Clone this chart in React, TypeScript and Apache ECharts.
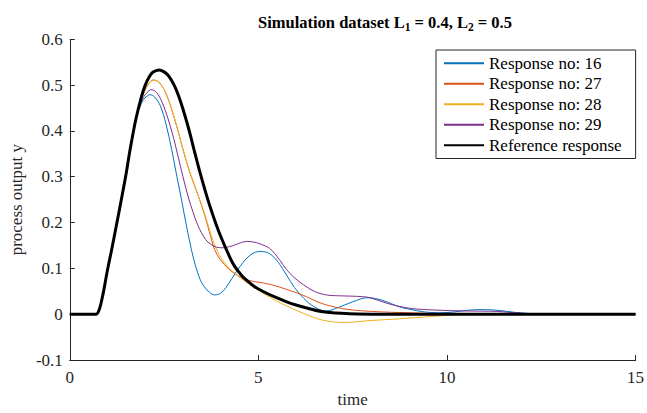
import React, { useEffect, useRef } from "react";
import * as echarts from "echarts";

const FONT = "'Liberation Serif', 'Times New Roman', serif";
const TEXT = "#262626";

// Common rising part (all responses coincide with the reference here)
const riseT = [0, 0.5, 0.65, 0.7, 0.75, 0.8, 0.85, 0.9, 1.0, 1.1, 1.25, 1.4, 1.5, 1.6, 1.75];
const riseY = [0, 0, 0, 0, 0.004, 0.015, 0.032, 0.052, 0.097, 0.137, 0.2, 0.265, 0.31, 0.36, 0.425];

const refT = [1.9, 2.0, 2.1, 2.2, 2.37, 2.5, 2.6, 2.7, 2.8, 2.9, 3.0, 3.1, 3.2, 3.3, 3.45, 3.66, 3.85, 4.0, 4.2, 4.36, 4.55, 4.7, 4.9, 5.14, 5.45, 5.75, 6.0, 6.31, 6.66, 7.2, 8, 15];
const refY = [0.475, 0.5, 0.517, 0.528, 0.533, 0.529, 0.522, 0.51, 0.494, 0.473, 0.448, 0.42, 0.39, 0.357, 0.31, 0.25, 0.203, 0.17, 0.132, 0.106, 0.085, 0.073, 0.06, 0.049, 0.037, 0.027, 0.02, 0.013, 0.006, 0.002, 0, 0];

const r16T = [1.85, 1.95, 2.05, 2.12, 2.25, 2.4, 2.55, 2.7, 2.84, 2.95, 3.1, 3.27, 3.4, 3.53, 3.7, 3.84, 4.0, 4.14, 4.3, 4.53, 4.8, 5.05, 5.3, 5.53, 5.75, 5.96, 6.2, 6.48, 6.8, 7.1, 7.5, 7.9, 8.3, 8.7, 9.0, 9.4, 9.8, 10.2, 10.6, 11.0, 11.4, 11.8, 12.3, 13, 15];
const r16Y = [0.45, 0.468, 0.476, 0.479, 0.474, 0.455, 0.415, 0.36, 0.3, 0.255, 0.19, 0.125, 0.088, 0.064, 0.048, 0.042, 0.046, 0.058, 0.078, 0.106, 0.13, 0.137, 0.132, 0.113, 0.085, 0.058, 0.035, 0.016, 0.007, 0.014, 0.027, 0.036, 0.03, 0.017, 0.011, 0.005, 0.003, 0.005, 0.009, 0.01, 0.008, 0.004, 0.001, 0, 0];

const r27T = [1.9, 2.0, 2.1, 2.21, 2.35, 2.5, 2.65, 2.8, 2.87, 3.0, 3.18, 3.4, 3.58, 3.7, 3.84, 4.0, 4.2, 4.4, 4.62, 4.9, 5.14, 5.45, 5.75, 6.14, 6.66, 7.18, 7.53, 8.0, 9.0, 10, 11, 15];
const r27Y = [0.47, 0.49, 0.504, 0.511, 0.507, 0.49, 0.46, 0.42, 0.4, 0.36, 0.31, 0.26, 0.215, 0.18, 0.141, 0.118, 0.1, 0.087, 0.077, 0.071, 0.068, 0.062, 0.054, 0.043, 0.024, 0.013, 0.009, 0.006, 0.003, 0.001, 0, 0];

const r28T = [1.9, 2.0, 2.1, 2.21, 2.35, 2.5, 2.65, 2.8, 2.87, 3.0, 3.18, 3.4, 3.58, 3.75, 3.92, 4.18, 4.4, 4.62, 5.14, 5.5, 5.75, 6.05, 6.4, 6.7, 7.0, 7.3, 7.96, 8.74, 9.6, 10.3, 11, 15];
const r28Y = [0.47, 0.49, 0.504, 0.511, 0.507, 0.49, 0.46, 0.42, 0.4, 0.36, 0.31, 0.26, 0.218, 0.172, 0.136, 0.104, 0.088, 0.073, 0.045, 0.028, 0.018, 0.007, -0.005, -0.013, -0.017, -0.018, -0.014, -0.01, -0.005, -0.001, 0, 0];

const r29T = [1.85, 1.95, 2.05, 2.16, 2.3, 2.45, 2.6, 2.75, 2.88, 3.0, 3.14, 3.27, 3.4, 3.6, 3.75, 3.9, 4.05, 4.3, 4.5, 4.7, 4.95, 5.15, 5.31, 5.55, 5.75, 5.95, 6.2, 6.48, 6.8, 7.2, 7.6, 7.96, 8.4, 9.0, 9.7, 10.5, 11.35, 11.8, 12.5, 15];
const r29Y = [0.455, 0.473, 0.484, 0.49, 0.484, 0.462, 0.428, 0.385, 0.341, 0.3, 0.256, 0.222, 0.193, 0.163, 0.152, 0.146, 0.145, 0.149, 0.155, 0.159, 0.156, 0.15, 0.143, 0.12, 0.097, 0.08, 0.064, 0.05, 0.042, 0.04, 0.039, 0.036, 0.024, 0.013, 0.009, 0.007, 0.006, 0.003, 0, 0];

const seriesNames = ["Response no: 16", "Response no: 27", "Response no: 28", "Response no: 29", "Reference response"];
const seriesColors = ["#0072BD", "#D95319", "#EDB120", "#7E2F8E", "#000000"];
const seriesWidths = [1, 1, 1, 1, 3];

const xTicks = [0, 5, 10, 15];
const yTicks = [-0.1, 0, 0.1, 0.2, 0.3, 0.4, 0.5, 0.6];

function pairs(ts: number[], ys: number[]): number[][] {
  return ts.map((t, i) => [t, ys[i]]);
}

export default function App() {
  const ref = useRef<HTMLDivElement>(null);
  useEffect(() => {
    if (!ref.current) return;
    const chart = echarts.init(ref.current, null, { renderer: "svg" });
    const tables = [
      pairs(riseT.concat(r16T), riseY.concat(r16Y)),
      pairs(riseT.concat(r27T), riseY.concat(r27Y)),
      pairs(riseT.concat(r28T), riseY.concat(r28Y)),
      pairs(riseT.concat(r29T), riseY.concat(r29Y)),
      pairs(riseT.concat(refT), riseY.concat(refY)),
    ];
    chart.setOption({
      animation: false,
      backgroundColor: "#ffffff",
      title: {
        left: 253,
        top: 6,
        text: "{a|Simulation dataset L}{s|1}{a| = 0.4, L}{s|2}{a| = 0.5}",
        textStyle: {
          rich: {
            a: { fontFamily: FONT, fontWeight: "bold", fontSize: 16.5, color: "#000", lineHeight: 22 },
            s: { fontFamily: FONT, fontWeight: "bold", fontSize: 11.5, color: "#000", lineHeight: 11, verticalAlign: "bottom" },
          },
        },
      },
      grid: { left: 64.5, right: 7, top: 39.3, bottom: 47, containLabel: false },
      legend: {
        orient: "vertical",
        left: 436,
        top: 50,
        padding: [3, 14, 3, 7],
        itemGap: 0,
        itemWidth: 40,
        itemHeight: 14,
        borderColor: TEXT,
        borderWidth: 1,
        backgroundColor: "#fff",
        itemStyle: { opacity: 0, color: "transparent", borderColor: "transparent" },
        textStyle: { fontFamily: FONT, fontSize: 17, color: "#000", lineHeight: 20.5 },
        data: seriesNames,
      },
      xAxis: {
        type: "value",
        min: 0,
        max: 15,
        interval: 5,
        name: "time",
        nameLocation: "middle",
        nameGap: 31,
        nameTextStyle: { fontFamily: FONT, fontSize: 17, color: TEXT },
        axisLine: { onZero: false, lineStyle: { color: TEXT, width: 1 } },
        axisTick: { inside: true, length: 5, lineStyle: { color: TEXT } },
        axisLabel: {
          fontFamily: FONT,
          fontSize: 17,
          color: TEXT,
          margin: 9,
          formatter: (v: number) => (xTicks.indexOf(v) >= 0 ? String(v) : ""),
        },
        splitLine: { show: false },
      },
      yAxis: {
        type: "value",
        min: -0.1,
        max: 0.6,
        interval: 0.1,
        name: "process output y",
        nameLocation: "middle",
        nameGap: 37,
        nameTextStyle: { fontFamily: FONT, fontSize: 17, color: TEXT },
        axisLine: { show: true, onZero: false, lineStyle: { color: TEXT, width: 1 } },
        axisTick: { show: true, inside: true, length: 5, lineStyle: { color: TEXT } },
        axisLabel: {
          fontFamily: FONT,
          fontSize: 17,
          color: TEXT,
          margin: 7,
          formatter: (v: number) => {
            const r = Math.round(v * 10) / 10;
            return yTicks.indexOf(r) >= 0 ? String(r) : "";
          },
        },
        splitLine: { show: false },
      },
      series: tables.map((d, i) => ({
        type: "line",
        name: seriesNames[i],
        data: d,
        symbol: "none",
        showSymbol: false,
        smooth: 0.35,
        z: i === 4 ? 5 : 2 + i * 0.1,
        lineStyle: { color: seriesColors[i], width: seriesWidths[i] },
        itemStyle: { color: seriesColors[i] },
      })),
    });
    return () => chart.dispose();
  }, []);
  return <div ref={ref} style={{ width: 647, height: 413, position: "absolute", left: 0, top: 0 }} />;
}
